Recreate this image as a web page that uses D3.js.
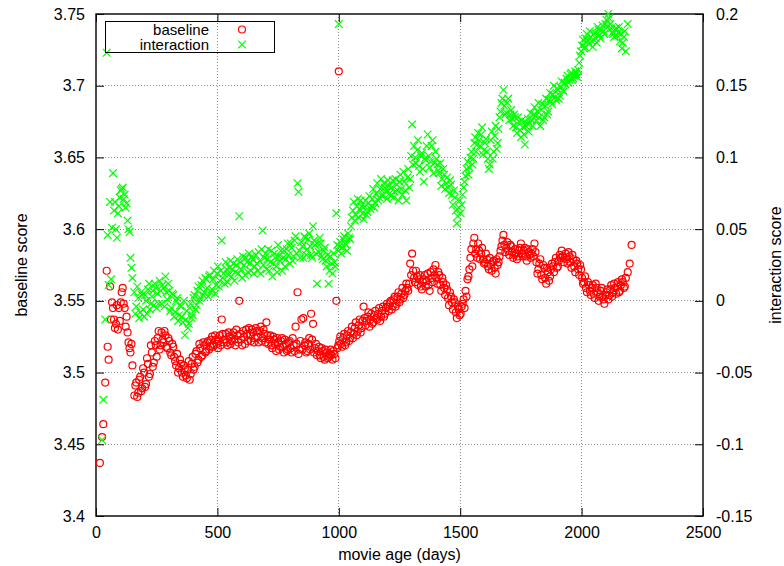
<!DOCTYPE html>
<html>
<head>
<meta charset="utf-8">
<script src="https://cdn.jsdelivr.net/npm/d3@7"></script>
<style>
  body { margin: 0; background: #fff; }
  text { font-family: "Liberation Sans", Arial, sans-serif; font-size: 16px; fill: #000; }
  .legend text { font-size: 15px; }
</style>
</head>
<body>
<svg id="chart" width="784" height="566"></svg>
<script>
/* baseline vs interaction score over movie age, two y axes */

//movie age in days, shared by both series
const movieAge = [
  16,25,30,38,44,48,52,58,62,66,70,74,78,82,86,90,94,98,102,106,110,114,118,122,126,130,134,138,142,146,150,
  158,162,166,170,174,178,182,186,190,194,198,202,206,210,214,218,222,226,230,234,238,242,246,250,
  254,258,262,266,270,274,278,282,286,290,294,298,302,306,310,314,318,322,326,330,334,338,342,346,
  350,354,358,362,366,370,374,378,382,386,390,394,398,402,406,410,414,418,422,426,430,434,438,442,446,450,
  454,458,462,466,470,474,478,482,486,490,494,498,502,506,510,514,518,522,526,530,534,538,542,546,550,554,
  558,562,566,570,574,578,582,586,590,594,598,602,606,610,614,618,622,626,630,634,638,642,646,650,654,658,
  662,666,670,674,678,682,686,690,694,698,702,706,710,714,718,722,726,730,734,738,742,746,750,754,758,762,
  766,770,774,778,782,786,790,794,798,802,806,810,814,818,822,826,830,834,838,842,846,850,854,858,862,866,
  870,874,878,882,886,890,894,898,902,906,910,914,918,922,926,930,934,938,942,946,950,954,958,962,966,970,974,978,982,986,990,994,
  998,1000,1002,1006,1010,1014,1018,1022,1026,1030,1034,1038,1042,1046,1050,1054,1058,1062,1066,1070,1074,1078,1082,1086,1090,1094,1098,
  1102,1106,1110,1114,1118,1122,1126,1130,1134,1138,1142,1146,1150,1154,1158,1162,1166,1170,1174,1178,1182,1186,1190,1194,1198,1202,
  1206,1210,1214,1218,1222,1226,1230,1234,1238,1242,1246,1250,1254,1258,1262,1266,1270,1274,1278,1282,1286,1290,1294,1298,1302,1306,
  1310,1314,1318,1322,1326,1330,1334,1338,1342,1346,1350,1354,1358,1362,1366,1370,1374,1378,1382,1386,1390,1394,1398,1402,1406,1410,
  1414,1418,1422,1426,1430,1434,1438,1442,1446,1450,1454,1458,1462,1466,1470,1474,1478,1482,1486,1490,1494,1498,1502,1506,1510,1514,
  1518,1522,1526,1530,1534,1538,1542,1546,1550,1554,1558,1562,1566,1570,1574,1578,1582,1586,1590,1594,1598,1602,1606,1610,1614,1618,
  1622,1626,1630,1634,1638,1642,1646,1650,1654,1658,1662,1666,1670,1674,1678,1682,1686,1690,1694,1698,1702,1706,1710,1714,1718,1722,
  1726,1730,1734,1738,1742,1746,1750,1754,1758,1762,1766,1770,1774,1778,1782,1786,1790,1794,1798,1802,1806,1810,1814,1818,1822,1826,
  1830,1834,1838,1842,1846,1850,1854,1858,1862,1866,1870,1874,1878,1882,1886,1890,1894,1898,1902,1906,1910,1914,1918,1922,1926,1930,
  1934,1938,1942,1946,1950,1954,1958,1962,1966,1970,1974,1978,1982,1986,1990,1994,1998,2002,2006,2010,2014,2018,2022,2026,2030,2034,
  2038,2042,2046,2050,2054,2058,2062,2066,2070,2074,2078,2082,2086,2090,2094,2098,2102,2106,2110,2114,2118,2122,2126,2130,2134,2138,
  2142,2146,2150,2154,2158,2162,2166,2170,2174,2178,2182,2190,2198,2206
];

//baseline score (left axis)
const baselineScore = [
  3.437,3.455,3.464,3.493,3.571,3.518,3.509,3.560,3.537,3.549,3.545,3.537,3.531,3.534,3.547,3.530,3.545,3.536,3.549,3.556,3.559,3.548,3.545,3.532,3.539,3.528,3.521,3.517,3.514,3.520,3.505,
  3.484,3.491,3.493,3.483,3.486,3.495,3.497,3.487,3.489,3.503,3.500,3.490,3.492,3.510,3.506,3.497,3.499,3.519,3.514,3.504,3.507,3.522,3.519,3.511,
  3.524,3.529,3.516,3.519,3.528,3.523,3.521,3.529,3.526,3.518,3.517,3.524,3.522,3.514,3.512,3.520,3.518,3.511,3.508,3.505,3.513,3.500,3.503,3.509,
  3.506,3.500,3.497,3.505,3.503,3.498,3.496,3.502,3.508,3.495,3.499,3.506,3.511,3.502,3.504,3.513,3.515,3.507,3.509,3.520,3.517,3.511,3.512,3.521,3.519,3.514,
  3.515,3.521,3.522,3.516,3.518,3.523,3.525,3.518,3.519,3.526,3.523,3.520,3.517,3.522,3.526,3.519,3.537,3.527,3.521,3.523,3.527,3.521,3.519,3.528,3.525,3.520,
  3.522,3.526,3.528,3.523,3.519,3.530,3.526,3.521,3.550,3.527,3.523,3.519,3.529,3.525,3.520,3.530,3.527,3.522,3.531,3.526,3.522,3.530,3.528,3.521,3.524,3.531,
  3.529,3.525,3.521,3.529,3.532,3.522,3.524,3.530,3.527,3.521,3.535,3.526,3.520,3.523,3.526,3.519,3.517,3.525,3.523,3.520,3.515,3.524,3.521,3.516,3.518,3.522,
  3.524,3.518,3.514,3.523,3.520,3.515,3.516,3.521,3.522,3.517,3.514,3.524,3.519,3.515,3.532,3.520,3.556,3.513,3.516,3.522,3.537,3.516,3.538,3.519,3.521,3.514,
  3.515,3.520,3.524,3.516,3.541,3.523,3.534,3.514,3.517,3.520,3.512,3.515,3.518,3.512,3.510,3.517,3.515,3.511,3.509,3.516,3.514,3.510,3.511,3.513,3.516,3.512,3.509,3.515,3.513,3.510,3.550,3.517,
  3.519,3.710,3.522,3.525,3.520,3.518,3.524,3.527,3.519,3.521,3.526,3.529,3.522,3.524,3.528,3.532,3.524,3.527,3.531,3.535,3.526,3.529,3.533,3.537,3.528,3.531,3.536,
  3.546,3.538,3.533,3.536,3.539,3.542,3.532,3.537,3.541,3.534,3.535,3.540,3.543,3.538,3.537,3.541,3.545,3.536,3.539,3.543,3.546,3.539,3.541,3.545,3.548,3.546,
  3.543,3.549,3.550,3.544,3.546,3.551,3.553,3.546,3.548,3.553,3.556,3.549,3.551,3.555,3.559,3.552,3.554,3.557,3.562,3.559,3.557,3.562,3.576,3.568,3.583,3.571,
  3.566,3.563,3.571,3.567,3.561,3.565,3.568,3.560,3.558,3.563,3.565,3.568,3.560,3.564,3.569,3.561,3.557,3.570,3.566,3.563,3.572,3.568,3.575,3.566,3.562,3.570,
  3.568,3.561,3.557,3.566,3.563,3.559,3.554,3.561,3.558,3.552,3.547,3.556,3.553,3.549,3.544,3.551,3.549,3.542,3.538,3.546,3.544,3.540,3.541,3.546,3.548,3.551,
  3.545,3.557,3.553,3.565,3.567,3.572,3.580,3.586,3.574,3.590,3.594,3.583,3.586,3.580,3.590,3.585,3.579,3.583,3.587,3.579,3.576,3.577,3.583,3.579,3.574,3.572,
  3.580,3.575,3.571,3.577,3.578,3.573,3.569,3.579,3.575,3.577,3.581,3.585,3.588,3.592,3.596,3.589,3.584,3.587,3.591,3.585,3.582,3.589,3.588,3.584,3.580,3.582,
  3.586,3.583,3.579,3.581,3.585,3.587,3.590,3.583,3.581,3.585,3.587,3.581,3.578,3.586,3.584,3.582,3.580,3.583,3.586,3.581,3.590,3.584,3.577,3.569,3.572,3.576,
  3.579,3.568,3.565,3.575,3.573,3.566,3.562,3.573,3.570,3.564,3.567,3.572,3.576,3.574,3.570,3.577,3.580,3.573,3.574,3.578,3.582,3.580,3.585,3.581,3.577,3.580,
  3.583,3.579,3.576,3.584,3.581,3.577,3.573,3.582,3.579,3.574,3.570,3.578,3.576,3.572,3.568,3.575,3.572,3.566,3.562,3.563,3.567,3.559,3.556,3.563,3.561,3.557,
  3.554,3.559,3.561,3.555,3.552,3.562,3.559,3.556,3.550,3.553,3.557,3.559,3.553,3.551,3.548,3.554,3.556,3.558,3.551,3.554,3.558,3.561,3.553,3.556,3.562,3.559,
  3.555,3.560,3.563,3.556,3.557,3.561,3.565,3.563,3.559,3.560,3.566,3.570,3.576,3.589
];

//interaction score (right axis), null = no point for that age
const interactionScore = [
  null,-0.097,-0.069,-0.013,0.173,0.046,0.011,0.069,0.015,0.051,0.089,0.063,0.069,0.050,0.044,0.061,0.066,0.072,0.077,0.078,0.079,0.071,0.074,0.065,0.068,0.056,0.050,0.048,0.030,0.023,0.016,
  0.006,-0.009,-0.004,0.010,0.002,-0.012,-0.008,0.006,0.004,-0.006,-0.011,0.004,0.000,-0.009,0.008,0.012,-0.006,-0.002,0.003,0.007,-0.003,0.012,0.009,-0.005,
  0.005,-0.002,0.014,0.007,-0.002,0.011,0.009,-0.004,0.017,0.006,0.001,0.012,0.007,-0.007,-0.005,0.005,0.004,-0.011,-0.008,0.000,0.002,-0.014,-0.010,-0.003,
  -0.004,-0.011,-0.015,0.000,-0.024,-0.013,-0.007,-0.019,-0.016,-0.005,-0.002,-0.012,-0.010,0.002,0.004,-0.006,-0.003,0.007,0.010,0.000,0.002,0.011,0.014,0.004,0.006,0.016,
  0.015,0.009,0.003,0.017,0.018,0.006,0.008,0.015,0.021,0.005,0.011,0.019,0.024,0.010,0.014,0.021,0.042,0.016,0.019,0.012,0.027,0.022,0.013,0.018,0.023,0.028,
  0.017,0.022,0.026,0.014,0.020,0.025,0.029,0.019,0.059,0.027,0.022,0.016,0.031,0.025,0.018,0.030,0.027,0.020,0.033,0.026,0.021,0.031,0.029,0.019,0.024,0.032,
  0.026,0.021,0.034,0.028,0.019,0.036,0.049,0.025,0.030,0.033,0.022,0.029,0.036,0.021,0.027,0.035,0.017,0.026,0.033,0.030,0.024,0.020,0.039,0.031,0.028,0.035,
  0.021,0.030,0.035,0.024,0.029,0.036,0.040,0.032,0.026,0.040,0.037,0.028,0.031,0.042,0.045,0.033,0.082,0.076,0.035,0.030,0.041,0.038,0.030,0.045,0.044,0.032,
  0.036,0.043,0.047,0.038,0.032,0.030,0.052,0.042,0.039,0.033,0.012,0.040,0.034,0.044,0.040,0.031,0.029,0.035,0.037,0.028,0.024,0.032,0.012,0.021,0.031,0.026,0.019,0.033,0.027,0.024,0.061,0.039,
  0.035,0.193,0.038,0.041,0.033,0.037,0.043,0.045,0.040,0.039,0.035,0.047,0.044,0.043,0.052,0.058,0.063,0.069,0.056,0.060,0.066,0.071,0.058,0.064,0.070,0.066,0.061,
  0.057,0.066,0.070,0.060,0.062,0.068,0.073,0.064,0.066,0.071,0.078,0.065,0.068,0.075,0.082,0.070,0.072,0.078,0.085,0.073,0.074,0.082,0.079,0.076,0.071,0.084,
  0.080,0.075,0.073,0.079,0.084,0.072,0.076,0.085,0.081,0.077,0.070,0.083,0.088,0.078,0.074,0.090,0.083,0.077,0.070,0.086,0.092,0.079,0.085,0.101,0.123,0.095,
  0.108,0.100,0.096,0.105,0.112,0.094,0.090,0.101,0.103,0.092,0.083,0.099,0.098,0.108,0.116,0.101,0.093,0.097,0.108,0.112,0.089,0.096,0.104,0.099,0.095,0.091,
  0.089,0.096,0.080,0.085,0.092,0.088,0.078,0.082,0.086,0.079,0.075,0.084,0.081,0.074,0.067,0.077,0.072,0.063,0.054,0.059,0.065,0.070,0.061,0.067,0.074,0.079,
  0.083,0.087,0.092,0.097,0.088,0.093,0.100,0.104,0.095,0.099,0.110,0.114,0.104,0.109,0.117,0.112,0.108,0.116,0.121,0.102,0.105,0.110,0.113,0.104,0.099,0.092,
  0.095,0.112,0.118,0.099,0.104,0.115,0.122,0.106,0.110,0.120,0.128,0.132,0.138,0.141,0.147,0.136,0.130,0.131,0.138,0.141,0.126,0.130,0.133,0.127,0.122,0.130,
  0.128,0.121,0.117,0.128,0.125,0.119,0.114,0.126,0.121,0.116,0.109,0.122,0.124,0.127,0.118,0.124,0.131,0.126,0.122,0.130,0.135,0.129,0.126,0.132,0.138,0.128,
  0.122,0.133,0.137,0.126,0.128,0.136,0.141,0.130,0.132,0.140,0.145,0.139,0.137,0.144,0.150,0.142,0.140,0.148,0.147,0.141,0.143,0.149,0.153,0.147,0.146,0.152,
  0.151,0.155,0.157,0.152,0.154,0.158,0.159,0.154,0.155,0.157,0.160,0.158,0.156,0.161,0.166,0.171,0.174,0.178,0.182,0.176,0.177,0.183,0.186,0.181,0.179,0.188,
  0.184,0.181,0.177,0.186,0.187,0.183,0.180,0.191,0.189,0.185,0.183,0.189,0.192,0.188,0.186,0.193,0.196,0.191,0.200,0.197,0.193,0.190,0.187,0.186,0.184,0.189,
  0.190,0.185,0.187,0.191,0.181,0.186,0.176,0.180,0.184,0.188,0.174,0.193,null,null
];

//tick values
const ageTicks = [0,500,1000,1500,2000,2500];
const baselineTicks = [3.4,3.45,3.5,3.55,3.6,3.65,3.7,3.75];
const interactionTicks = [-0.15,-0.1,-0.05,0,0.05,0.1,0.15,0.2];
const seriesNames = ["baseline","interaction"];
const seriesColors = ["#ff0000","#00ff00"];

const svg = d3.select("#chart");
const plot = {left:96, right:703, top:14, bottom:516};

//scales, both y scales cover the same span so the grid lines up
const x = d3.scaleLinear().domain([0,2500]).range([plot.left,plot.right]);
const yLeft = d3.scaleLinear().domain([3.4,3.75]).range([plot.bottom,plot.top]);
const yRight = d3.scaleLinear().domain([-0.15,0.2]).range([plot.bottom,plot.top]);

//dotted grid
const grid = svg.append("g")
                .attr("stroke","#8c8c8c")
                .attr("stroke-width",1)
                .attr("stroke-dasharray","1,2")
                .attr("shape-rendering","crispEdges");
grid.selectAll("line.gx")
    .data(ageTicks.slice(1,-1))
    .enter()
    .append("line")
    .attr("class","gx")
    .attr("x1",d=>x(d)).attr("x2",d=>x(d))
    .attr("y1",plot.top).attr("y2",plot.bottom);
grid.selectAll("line.gy")
    .data(baselineTicks.slice(1,-1))
    .enter()
    .append("line")
    .attr("class","gy")
    .attr("x1",plot.left).attr("x2",plot.right)
    .attr("y1",d=>yLeft(d)).attr("y2",d=>yLeft(d));

//axes, ticks point inwards like gnuplot
const fmt = d => String(d);
function clean(g){
  g.select(".domain").remove();
  g.selectAll(".tick line").attr("stroke","#000");
}
svg.append("g")
   .attr("transform","translate(0,"+plot.bottom+")")
   .call(d3.axisBottom(x).tickValues(ageTicks).tickSizeInner(-8).tickSizeOuter(0).tickPadding(11).tickFormat(fmt))
   .call(clean);
svg.append("g")
   .attr("transform","translate(0,"+plot.top+")")
   .call(d3.axisTop(x).tickValues(ageTicks).tickSizeInner(-8).tickSizeOuter(0).tickFormat(""))
   .call(clean);
svg.append("g")
   .attr("transform","translate("+plot.left+",0)")
   .call(d3.axisLeft(yLeft).tickValues(baselineTicks).tickSizeInner(-8).tickSizeOuter(0).tickPadding(11).tickFormat(fmt))
   .call(clean);
svg.append("g")
   .attr("transform","translate("+plot.right+",0)")
   .call(d3.axisRight(yRight).tickValues(interactionTicks).tickSizeInner(-8).tickSizeOuter(0).tickPadding(13).tickFormat(fmt))
   .call(clean);

//border
svg.append("rect")
   .attr("x",plot.left).attr("y",plot.top)
   .attr("width",plot.right-plot.left).attr("height",plot.bottom-plot.top)
   .attr("fill","none")
   .attr("stroke","#111")
   .attr("stroke-width",1.5);

//axis titles
svg.append("text")
   .attr("x",(plot.left+plot.right)/2)
   .attr("y",560)
   .attr("text-anchor","middle")
   .text("movie age (days)");
svg.append("text")
   .attr("transform","translate(27,"+((plot.top+plot.bottom)/2)+") rotate(-90)")
   .attr("text-anchor","middle")
   .text("baseline score");
svg.append("text")
   .attr("transform","translate(781,"+((plot.top+plot.bottom)/2)+") rotate(-90)")
   .attr("text-anchor","middle")
   .text("interaction score");

const points = movieAge.map((d,i) => ({age:d, base:baselineScore[i], inter:interactionScore[i]}));

//baseline circles
svg.append("g")
   .selectAll("circle")
   .data(points.filter(d => d.base != null))
   .enter()
   .append("circle")
   .attr("cx",d=>x(d.age))
   .attr("cy",d=>yLeft(d.base))
   .attr("r",3.5)
   .attr("fill","none")
   .attr("stroke",seriesColors[0])
   .attr("stroke-width",1.2);

//interaction crosses, drawn on top
const cross = d3.symbol().type(d3.symbolTimes).size(40);
svg.append("g")
   .selectAll("path")
   .data(points.filter(d => d.inter != null))
   .enter()
   .append("path")
   .attr("d",cross)
   .attr("transform",d => "translate("+x(d.age)+","+yRight(d.inter)+")")
   .attr("fill","none")
   .attr("stroke",seriesColors[1])
   .attr("stroke-width",1.2);

//legend
const legend = svg.append("g").attr("class","legend");
legend.append("rect")
      .attr("x",105.5).attr("y",21.5)
      .attr("width",169).attr("height",31)
      .attr("fill","none")
      .attr("stroke","#000")
      .attr("stroke-width",1);
legend.selectAll("text")
      .data(seriesNames)
      .enter()
      .append("text")
      .attr("x",209)
      .attr("y",(d,i) => 34.5 + i*15.5)
      .attr("text-anchor","end")
      .text(d => d);
legend.append("circle")
      .attr("cx",242).attr("cy",29.5).attr("r",3.5)
      .attr("fill","none").attr("stroke",seriesColors[0]).attr("stroke-width",1.2);
legend.append("path")
      .attr("d",cross)
      .attr("transform","translate(242,44.5)")
      .attr("fill","none").attr("stroke",seriesColors[1]).attr("stroke-width",1.2);
</script>
</body>
</html>
